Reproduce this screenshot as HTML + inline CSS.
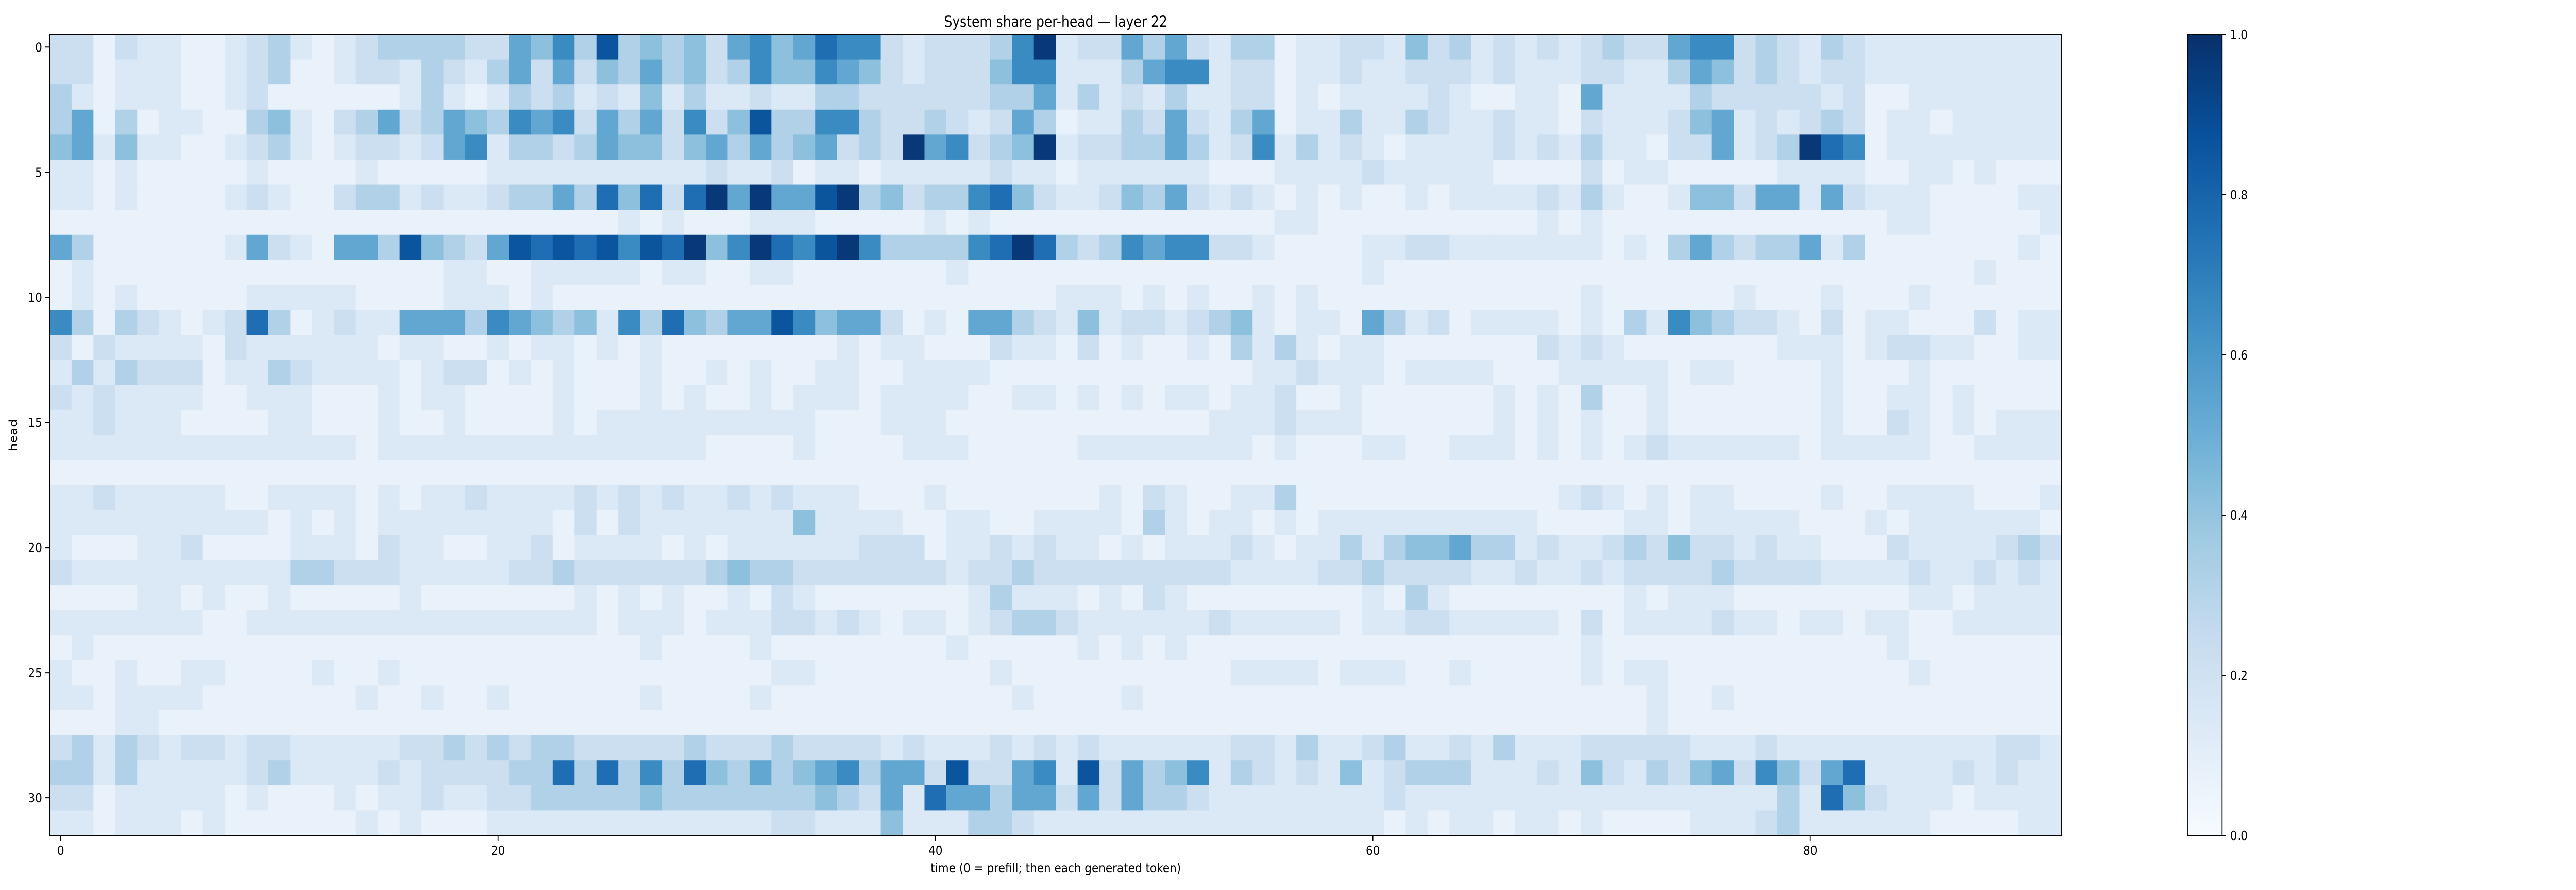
<!DOCTYPE html>
<html><head><meta charset="utf-8"><style>
html,body{margin:0;padding:0;background:#fff;overflow:hidden;width:100%;height:100%;}
svg{display:block;font-family:"DejaVu Sans","Liberation Sans",sans-serif;width:100vw;height:100vh;}
</style></head><body>
<svg id="fig" xmlns="http://www.w3.org/2000/svg" viewBox="0 0 5795 1728" preserveAspectRatio="none">
<defs>
<linearGradient id="cbgrad" x1="0" y1="1" x2="0" y2="0">
<stop offset="0" stop-color="#f7fbff"/><stop offset="0.125" stop-color="#deebf7"/><stop offset="0.25" stop-color="#c6dbef"/><stop offset="0.375" stop-color="#9ecae1"/><stop offset="0.5" stop-color="#6baed6"/><stop offset="0.625" stop-color="#4292c6"/><stop offset="0.75" stop-color="#2171b5"/><stop offset="0.875" stop-color="#08519c"/><stop offset="1" stop-color="#08306b"/>
</linearGradient>
</defs>
<text x="2375" y="52" font-size="29" text-anchor="middle" fill="#000">System share per-head — layer 22</text>
<g id="cells"></g>
<rect x="111.8" y="67" width="4526.4" height="1555" fill="none" stroke="#000" stroke-width="2"/>
<g id="xticks"></g>
<g id="yticks"></g>
<text x="2375" y="1694" font-size="25" text-anchor="middle">time (0 = prefill; then each generated token)</text>
<text x="38" y="845" font-size="25" text-anchor="middle" transform="rotate(-90 38 845)">head</text>
<rect x="4920" y="67" width="78" height="1555" fill="url(#cbgrad)" stroke="#000" stroke-width="2"/>
<g id="cbticks"></g>
</svg>
<script>
// heat levels per head (rows), one char per time step; value = levelValues[char]
const levelValues = [0.07,0.14,0.22,0.32,0.42,0.53,0.65,0.76,0.86,0.97];
const heads = [
"22021100123101233332254 63834342564576621222369 12253521330112214231212 12322566232132111111111",
"22011100123001221321352 52435342364465421222466 11135661220112112221211 12211354232122111111111",
"31011100120000001310132 31214131121133222222335 13121311220101111210011 05111132222212001111111",
"35030110034102352354365 62535262483366322321253 01132521350113113211211 02111245121232011011111",
"45141100123101221256133 23544245353452329562349 12233531261312101111212 13110225123976011111111",
"11010000010000100000111 11111112112011011111211 01111110001111211111000 02011000001111001101000",
"11010000121002331211233 53747279595589342336742 11243521210101001011112 13100144255152111000011",
"00000000000000000000000 00010100011100000101000 00000000001100000000001 01000000000000011000001",
"53000000152105538432587 87868794697689633336797 32365662210000112211111 11010353233513000000010",
"01000000000000000011001 11110110011000000010000 00000000000000100000000 00000000000000000001000",
"01010000011111000011101 00000000000000000000000 11101010010100000000000 01000000100010001000000",
"63032101273012115553654 34163743558645520105532 14122123410110531201111 01031643221020110002011",
"20211110211111101100101 10101000000001011000211 02010010313101100000002 12100000001110122110011",
"13132220113211110122010 10001001010011001111000 00000000011211101111000 11111011000010001000000",
"21211110011100010110000 10001010010111011110011 01010110112001000000101 03001000000010011010000",
"11211100001100010010000 10111111111100011100000 00000001112111000000101 01001000000010021010111",
"11111111111111011111111 11111110000100001110000 01111111101000110011101 01012111111011111001111",
"00000000000000000000000 00000000000000000000000 00000000000000000000000 00000000000000000000000",
"11211111001111010112111 12121211212111000100000 00102100113000000000000 12101011000010011110001",
"11111111110101011111111 02021111111411110011001 11103101101011111111110 00011011111000101111110",
"10001120000111021100112 01111010111111222011212 11010111210113134453312 11232422121100021111232",
"21111111111332221111122 32222223433222222212232 22222222111122322221121 12122223222211112112121",
"00001101001000001000000 01010100102100000001311 10102100000000103100000 00010111000000001101111",
"11111110011111111111111 11011101112212101101233 21111112111110112211111 02011112110110110011111",
"01000000000000000000000 00001000010000000010000 01010100000000000000000 01000000000000010000000",
"10010011000010010000000 00000000001100000000100 00000000111101110010000 01011000000000001000000",
"11011110000000100100100 00001000010000000000010 00010000000000000000000 00001001000000000000000",
"00011000000000000000000 00000000000000000000000 00000000000000000000000 00001000000000000000000",
"23132122122111112232323 32222232223222212111212 12111111221311231121311 12222211121111111111221",
"33131111123111121222233 73736374353456355282256 18253461321214123331112 14213245264257111121211",
"22011111010001011211223 33334333333343251755355 25253321111111121111111 11111111113174211101111",
"11011101000000101000111 11111111112211141113321 11111111111111101011011 01000011123111111000011"
];
const xTickValues = [0,20,40,60,80];
const xTickLabels = ["0","20","40","60","80"];
const yTickValues = [0,5,10,15,20,25,30];
const yTickLabels = ["0","5","10","15","20","25","30"];
const cbTickValues = [0,0.2,0.4,0.6,0.8,1.0];
const cbTickLabels = ["0.0","0.2","0.4","0.6","0.8","1.0"];

const NS = "http://www.w3.org/2000/svg";
const nCols = 92, nRows = heads.length;
const PL = 111.8, PR = 4638.2, PT = 67, PB = 1622;
const cw = (PR - PL) / nCols, ch = (PB - PT) / nRows;
const xScale = t => PL + (t + 0.5) * cw;
const yScale = h => PT + (h + 0.5) * ch;
const CB_T = 67, CB_B = 1622, CB_X = 4998;
const cbScale = v => CB_B - v * (CB_B - CB_T);

const stops = ["#f7fbff","#deebf7","#c6dbef","#9ecae1","#6baed6","#4292c6","#2171b5","#08519c","#08306b"];
function hex(c){return [parseInt(c.slice(1,3),16),parseInt(c.slice(3,5),16),parseInt(c.slice(5,7),16)];}
function blues(v){
  v = Math.max(0, Math.min(1, v));
  const p = v * 8, i = Math.min(7, Math.floor(p)), f = p - i;
  const a = hex(stops[i]), b = hex(stops[i+1]);
  return "rgb(" + a.map((x,k)=>Math.round(x + (b[k]-x)*f)).join(",") + ")";
}
function mk(tag, attrs){const e=document.createElementNS(NS,tag);for(const k in attrs)e.setAttribute(k,attrs[k]);return e;}

const cellsG = document.getElementById("cells");
heads.forEach((rowStr, h) => {
  const s = rowStr.replace(/\s/g, "");
  for (let t = 0; t < nCols; t++) {
    const ch1 = s[t] || "0";
    const v = levelValues[parseInt(ch1, 10)];
    const r = mk("rect", {x: (xScale(t) - cw/2).toFixed(2), y: (yScale(h) - ch/2).toFixed(2), width: (cw + 0.6).toFixed(2), height: (ch + 0.6).toFixed(2), fill: blues(v)});
    
    
    cellsG.appendChild(r);
  }
});

const xg = document.getElementById("xticks");
xTickValues.forEach((t, i) => {
  const x = xScale(t);
  const l = mk("line", {x1: x, x2: x, y1: PB, y2: PB + 10, stroke: "#000", "stroke-width": 2});
  
  
  xg.appendChild(l);
  const tx = mk("text", {x: x, y: 1660, "font-size": 25, "text-anchor": "middle"});
  
  
  tx.textContent = xTickLabels[i];
  xg.appendChild(tx);
});
const yg = document.getElementById("yticks");
yTickValues.forEach((h, i) => {
  const y = yScale(h);
  const l = mk("line", {x1: PL - 10, x2: PL, y1: y, y2: y, stroke: "#000", "stroke-width": 2});
  
  
  yg.appendChild(l);
  const tx = mk("text", {x: PL - 17, y: y + 9, "font-size": 25, "text-anchor": "end"});
  
  
  tx.textContent = yTickLabels[i];
  yg.appendChild(tx);
});
const cg = document.getElementById("cbticks");
cbTickValues.forEach((v, i) => {
  const y = cbScale(v);
  const l = mk("line", {x1: CB_X, x2: CB_X + 10, y1: y, y2: y, stroke: "#000", "stroke-width": 2});
  
  
  cg.appendChild(l);
  const tx = mk("text", {x: CB_X + 19, y: y + 9, "font-size": 25, "text-anchor": "start"});
  
  
  tx.textContent = cbTickLabels[i];
  cg.appendChild(tx);
});
</script>
</body></html>
